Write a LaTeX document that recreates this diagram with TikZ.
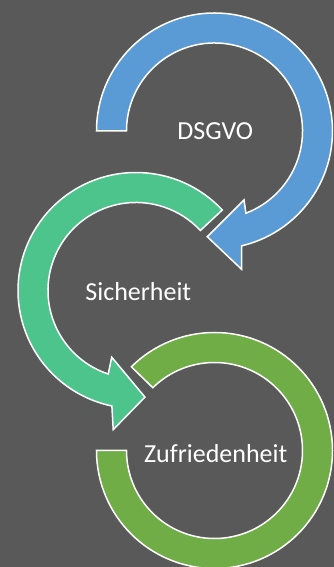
\documentclass[tikz,border=0pt]{standalone}
\usepackage{fontspec}
\setmainfont{Carlito}
\usetikzlibrary{positioning}
\definecolor{bggray}{HTML}{595959}
\definecolor{dsgvoblue}{HTML}{5B9BD5}
\definecolor{secgreen}{HTML}{4DC48C}
\definecolor{happygreen}{HTML}{70AD47}
\tikzstyle{band}=[draw=white, line width=1.5pt, line join=miter]
\tikzstyle{caption}=[text=white, font=\fontsize{26}{30}\selectfont, anchor=base, inner sep=0pt]

\begin{document}
\begin{tikzpicture}[x=1pt, y=1pt]
    \fill[bggray] (0,0) rectangle (334,567);
    \useasboundingbox (0,0) rectangle (334,567);
    \clip (0,0) rectangle (334,567);
    \coordinate (cb) at (214.5,436);
    \coordinate (cg) at (136,276.5);
    \coordinate (cz) at (214.5,116.5);

    % DSGVO arrow
    \begin{scope}[shift={(cb)}]
        \draw[band, fill=dsgvoblue] (180:118) arc[start angle=180, end angle=-76.7, radius=118]
            -- (-78.9:141) -- (-93.9:106) -- (-66.8:75) -- (-69.1:88)
            arc[start angle=-69.1, end angle=180, radius=88] -- cycle;
    \end{scope}
    % Sicherheit arrow
    \begin{scope}[shift={(cg)}]
        \draw[band, fill=secgreen] (43:118) arc[start angle=43, end angle=258.2, radius=118]
            -- (260.7:141) -- (274.8:107) -- (250:71) -- (251.6:88)
            arc[start angle=251.6, end angle=43, radius=88] -- cycle;
    \end{scope}
    % Zufriedenheit ring
    \begin{scope}[shift={(cz)}]
        \draw[band, fill=happygreen] (180:118) arc[start angle=180, end angle=494.8, radius=118]
            -- (134.5:88) arc[start angle=134.5, end angle=-180, radius=88] -- cycle;
    \end{scope}

    \node[caption] (dsgvo) at ([xshift=0.8pt, yshift=-8.3pt]cb) {DSGVO};
    \node[caption] (sicherheit) at ([xshift=2.3pt, yshift=-10.5pt]cg) {Sicherheit};
    \node[caption] (zufriedenheit) at ([xshift=1.2pt, yshift=-11.8pt]cz) {Zufriedenheit};
\end{tikzpicture}
\end{document}
